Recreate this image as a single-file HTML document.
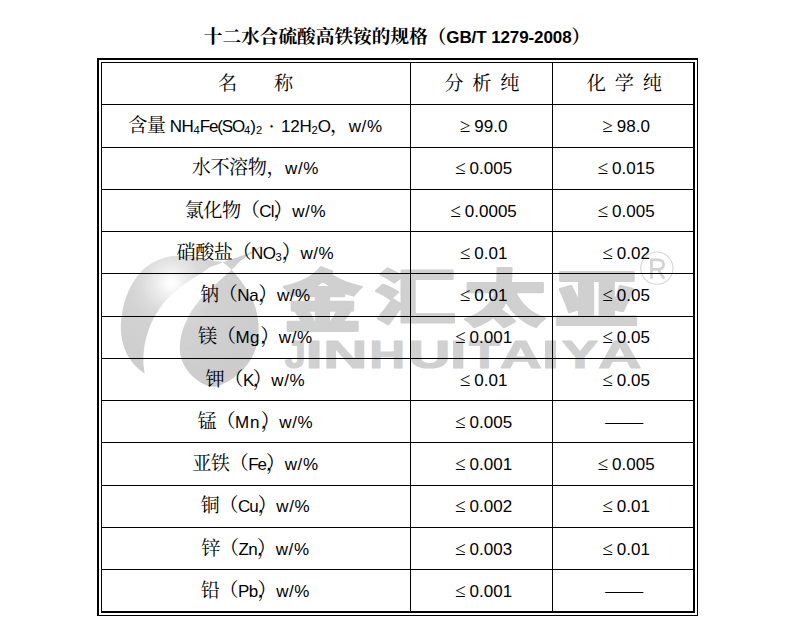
<!DOCTYPE html>
<html lang="zh-CN">
<head>
<meta charset="utf-8">
<title>十二水合硫酸高铁铵的规格（GB/T 1279-2008）</title>
<style>
html,body{margin:0;padding:0;background:#fff}
body{position:relative;width:793px;height:642px;overflow:hidden;font-family:"Liberation Sans",sans-serif;color:#000}
.k{position:absolute;background:#000}
.t{position:absolute;white-space:nowrap;text-align:center;font-size:17px}
.t svg.c{display:inline-block;vertical-align:-6px;overflow:visible;fill:#000}
.t span.c{font-family:"Liberation Serif","Noto Serif CJK SC",serif;font-size:19.2px;letter-spacing:-0.53px;line-height:0}
.t span.c.b{display:inline-block;width:18.67px;text-align:center;letter-spacing:0}
h1.t span.c{font-size:18.67px;letter-spacing:0;font-weight:bold}
.t .s{font-size:11.2px;vertical-align:-2.2px;line-height:0}
#wm{position:absolute;left:0;top:0}
h1{margin:0;font-weight:bold;font-size:17px}
</style>
</head>
<body>
<svg id="wm" width="793" height="642" viewBox="0 0 793 642" role="img"><title>金汇太亚 JINHUITAIYA ®</title><defs><radialGradient id="lg" gradientUnits="userSpaceOnUse" cx="171" cy="283" r="100"><stop offset="0" stop-color="#ffffff"/><stop offset="0.05" stop-color="#fbfbfb"/><stop offset="0.15" stop-color="#ececec"/><stop offset="0.3" stop-color="#dbdbdb"/><stop offset="0.45" stop-color="#d2d2d2"/><stop offset="1" stop-color="#cccccc"/></radialGradient></defs><path fill="url(#lg)" d="M222.9 262.2C221.8 262 218.2 261.5 216 261.2C213.8 260.9 212.2 260.6 210 260.2C207.8 259.8 205.3 259.1 203 258.6C200.7 258.1 199.2 257.5 196 257C192.8 256.5 188.2 255.9 184 255.8C179.8 255.7 175.1 255.6 171 256.2C166.9 256.8 163.3 257.9 159.5 259.5C155.7 261.1 151.4 263.3 148.2 265.5C145 267.7 142.8 269.9 140.4 272.5C138 275.1 136 277.9 134 281C132 284.1 130.1 287.5 128.5 291C126.9 294.5 125.6 298.2 124.5 302C123.4 305.8 122.6 309.7 122 313.5C121.4 317.3 120.9 321.1 120.8 325C120.7 328.9 121 333.1 121.6 337C122.2 340.9 123.2 344.9 124.5 348.5C125.8 352.1 127.5 355.4 129.5 358.5C131.5 361.6 134 364.5 136.5 367C139 369.5 143.3 372.5 144.7 373.6C144.5 371.3 143.3 364.8 143.3 360C143.3 355.2 144 349.2 144.7 344.8C145.4 340.4 146.3 337.2 147.5 333.5C148.7 329.8 149.9 326 151.7 322.3C153.4 318.6 155.8 314.6 158 311.1C160.2 307.6 162.4 304.3 165 301.3C167.6 298.3 170.3 295.7 173.5 292.9C176.7 290.1 180.5 287.1 184 284.5C187.5 281.9 191.3 279.4 194.5 277.4C197.7 275.4 200.4 274 203 272.3C205.6 270.6 207.7 268.6 210 267.3C212.3 266 214.8 265.4 217 264.5C219.2 263.6 221.9 262.6 222.9 262.2Z"/><path fill="url(#lg)" d="M231.7 269.7C232.8 270.9 235.9 274.3 238 277C240.1 279.7 242.4 282.8 244.5 286C246.6 289.2 248.7 292.6 250.5 296C252.3 299.4 253.8 302.4 255.1 306.4C256.4 310.4 257.4 315.9 258 320C258.6 324.1 258.7 327.3 258.6 331C258.5 334.7 258.3 338.5 257.6 342C256.9 345.5 255.8 348.8 254.5 352C253.2 355.2 251.4 358.6 249.5 361.5C247.6 364.4 245.5 366.9 243 369.5C240.5 372.1 237.5 374.8 234.5 377C231.5 379.2 228.2 381.4 225 383C221.8 384.6 218.2 386.5 215 386.8C211.8 387.1 208.5 386.1 205.5 385C202.5 383.9 199.8 382.1 197 380C194.2 377.9 191.3 375.3 189 372.5C186.7 369.7 184.5 366.4 183 363C181.5 359.6 180.4 356 180 352.2C179.6 348.4 179.9 343.9 180.4 340C180.9 336.1 181.8 332.6 183 329C184.2 325.4 185.8 322 187.5 318.5C189.2 315 191.3 311.2 193.5 308C195.7 304.8 198 301.9 200.5 299C203 296.1 205.8 293.2 208.5 290.5C211.2 287.8 214.2 285.4 217 283C219.8 280.6 222.6 278 225 275.8C227.4 273.6 230.6 270.7 231.7 269.7Z"/><path fill="url(#lg)" d="M231.7 269.7C231 269.1 229 267.2 227.5 266C226 264.8 223.7 262.8 222.9 262.2C223.9 261.8 226.9 260.7 228.9 260C230.9 259.3 233.3 258.7 235.2 258.1C237.1 257.5 238.6 256.8 240.3 256.2C242 255.6 242.7 255.8 245.3 254.6C247.9 253.4 252.7 251.4 256 249.3C259.3 247.2 263.8 243.5 265.3 242.3C263.8 243.7 259.1 248.6 256.5 250.6C253.9 252.6 251.9 253.3 250 254.5C248.1 255.7 246.7 256.5 245.3 257.5C243.9 258.5 242.7 259.4 241.5 260.3C240.3 261.2 239.5 262.1 238.4 263.1C237.3 264.1 236.3 265.2 235.2 266.3C234.1 267.4 232.3 269.1 231.7 269.7Z"/><g fill="#d0d0d0"><g stroke="#d0d0d0" stroke-width="3.5" stroke-linejoin="round" font-family="&quot;Liberation Sans&quot;,&quot;Noto Sans CJK SC&quot;,sans-serif" font-weight="900" font-size="100"><text transform="translate(283.1 324.6) scale(0.7930 0.6610)">金</text><text transform="translate(374.8 318.9) scale(0.8122 0.5971)">汇</text><text transform="translate(463.7 320.7) scale(0.8219 0.6128)">太</text><text transform="translate(555.2 321.6) scale(0.8288 0.6143)">亚</text></g><g font-family="&quot;Liberation Sans&quot;,sans-serif" font-weight="bold" font-size="39.68" stroke="#d0d0d0" stroke-width="1.2" stroke-linejoin="round"><text transform="translate(284.8 367.6) scale(0.951 1)">J</text><text transform="translate(305.4 367.6) scale(1.562 1)">I</text><text transform="translate(323.2 367.6) scale(1.545 1)">N</text><text transform="translate(369.3 367.6) scale(1.251 1)">H</text><text transform="translate(408.5 367.6) scale(1.461 1)">U</text><text transform="translate(450.1 367.6) scale(1.482 1)">I</text><text transform="translate(469 367.6) scale(1.275 1)">T</text><text transform="translate(499.8 367.6) scale(1.467 1)">A</text><text transform="translate(541.7 367.6) scale(1.597 1)">I</text><text transform="translate(561.8 367.6) scale(1.374 1)">Y</text><text transform="translate(598.2 367.6) scale(1.508 1)">A</text></g></g><circle cx="656.85" cy="268.15" r="16.1" fill="none" stroke="#d6d6d6" stroke-width="1.1"/><path d="M651.5 278.8V259.9H658C661.8 259.9 663.6 261.8 663.6 264.6C663.6 267.6 661.6 269.4 658 269.4H651.5M658.2 269.4L664.2 278.8" fill="none" stroke="#d2d2d2" stroke-width="2.7"/></svg>
<div id="grid"><div class="k" style="left:97px;top:58px;width:601px;height:2px"></div><div class="k" style="left:97px;top:58px;width:2px;height:558px"></div><div class="k" style="left:97px;top:615px;width:601px;height:1px"></div><div class="k" style="left:697px;top:58px;width:1px;height:558px"></div><div class="k" style="left:101px;top:62px;width:594px;height:1px"></div><div class="k" style="left:101px;top:62px;width:1px;height:550px"></div><div class="k" style="left:101px;top:611px;width:594px;height:2px"></div><div class="k" style="left:693px;top:62px;width:2px;height:551px"></div><div class="k" style="left:102px;top:104px;width:591px;height:1px"></div><div class="k" style="left:102px;top:147px;width:591px;height:1px"></div><div class="k" style="left:102px;top:189px;width:591px;height:1px"></div><div class="k" style="left:102px;top:231px;width:591px;height:1px"></div><div class="k" style="left:102px;top:273px;width:591px;height:1px"></div><div class="k" style="left:102px;top:316px;width:591px;height:1px"></div><div class="k" style="left:102px;top:358px;width:591px;height:1px"></div><div class="k" style="left:102px;top:400px;width:591px;height:1px"></div><div class="k" style="left:102px;top:442px;width:591px;height:1px"></div><div class="k" style="left:102px;top:485px;width:591px;height:1px"></div><div class="k" style="left:102px;top:527px;width:591px;height:1px"></div><div class="k" style="left:102px;top:569px;width:591px;height:1px"></div><div class="k" style="left:410px;top:63px;width:1px;height:548px"></div><div class="k" style="left:552px;top:63px;width:1px;height:548px"></div></div>
<h1 class="t" style="left:1px;top:17px;width:792px;height:42px;line-height:42px"><span class="c">十二水合硫酸高铁铵的规格（</span><span style="letter-spacing:-0.1px">GB/T 1279-2008</span><span class="c">）</span></h1>
<div class="t" style="left:105.4px;top:63.5px;width:300px;height:42px;line-height:42px"><span class="c">名　　称</span></div>
<div class="t" style="left:413.5px;top:63.5px;width:136px;height:42px;line-height:42px"><span class="c" style="letter-spacing:8.8px;margin-right:-9.33px">分析纯</span></div>
<div class="t" style="left:556px;top:63.5px;width:136px;height:42px;line-height:42px"><span class="c" style="letter-spacing:8.8px;margin-right:-9.33px">化学纯</span></div>
<div class="t" style="left:105.4px;top:106px;width:300px;height:42px;line-height:42px"><span class="c">含量</span><span style="letter-spacing:-0.46px"> NH</span><span class="s" style="letter-spacing:0px">4</span><span style="letter-spacing:-1.12px">Fe(SO</span><span class="s" style="letter-spacing:0px">4</span><span style="letter-spacing:0px">)</span><span class="s" style="letter-spacing:0px">2</span><span class="c b" style="font-size:10px;vertical-align:2.5px">•</span><span style="letter-spacing:-0.21px">12H</span><span class="s" style="letter-spacing:0px">2</span><span style="letter-spacing:-0.86px">O</span><span class="c">，</span><span style="letter-spacing:0.59px">w/%</span></div>
<div class="t" style="left:413.5px;top:106px;width:136px;height:42px;line-height:42px"><span class="c b">≥</span><span style="letter-spacing:0px">99.0</span></div>
<div class="t" style="left:556px;top:106px;width:136px;height:42px;line-height:42px"><span class="c b">≥</span><span style="letter-spacing:0px">98.0</span></div>
<div class="t" style="left:105.4px;top:148.25px;width:300px;height:42px;line-height:42px"><span class="c">水不溶物，</span><span style="letter-spacing:0.59px">w/%</span></div>
<div class="t" style="left:413.5px;top:148.25px;width:136px;height:42px;line-height:42px"><span class="c b">≤</span><span style="letter-spacing:0px">0.005</span></div>
<div class="t" style="left:556px;top:148.25px;width:136px;height:42px;line-height:42px"><span class="c b">≤</span><span style="letter-spacing:0px">0.015</span></div>
<div class="t" style="left:105.4px;top:190.5px;width:300px;height:42px;line-height:42px"><span class="c">氯化物（</span><span style="letter-spacing:-0.91px">Cl</span><span class="c"><span style="letter-spacing:-9.86px">）</span>，</span><span style="letter-spacing:0.59px">w/%</span></div>
<div class="t" style="left:413.5px;top:190.5px;width:136px;height:42px;line-height:42px"><span class="c b">≤</span><span style="letter-spacing:0px">0.0005</span></div>
<div class="t" style="left:556px;top:190.5px;width:136px;height:42px;line-height:42px"><span class="c b">≤</span><span style="letter-spacing:0px">0.005</span></div>
<div class="t" style="left:105.4px;top:232.75px;width:300px;height:42px;line-height:42px"><span class="c">硝酸盐（</span><span style="letter-spacing:-0.55px">NO</span><span class="s" style="letter-spacing:0px">3</span><span class="c"><span style="letter-spacing:-9.86px">）</span>，</span><span style="letter-spacing:0.59px">w/%</span></div>
<div class="t" style="left:413.5px;top:232.75px;width:136px;height:42px;line-height:42px"><span class="c b">≤</span><span style="letter-spacing:0px">0.01</span></div>
<div class="t" style="left:556px;top:232.75px;width:136px;height:42px;line-height:42px"><span class="c b">≤</span><span style="letter-spacing:0px">0.02</span></div>
<div class="t" style="left:105.4px;top:275px;width:300px;height:42px;line-height:42px"><span class="c">钠（</span><span style="letter-spacing:-0.37px">Na</span><span class="c"><span style="letter-spacing:-9.86px">）</span>，</span><span style="letter-spacing:0.59px">w/%</span></div>
<div class="t" style="left:413.5px;top:275px;width:136px;height:42px;line-height:42px"><span class="c b">≤</span><span style="letter-spacing:0px">0.01</span></div>
<div class="t" style="left:556px;top:275px;width:136px;height:42px;line-height:42px"><span class="c b">≤</span><span style="letter-spacing:0px">0.05</span></div>
<div class="t" style="left:105.4px;top:317.25px;width:300px;height:42px;line-height:42px"><span class="c">镁（</span><span style="letter-spacing:0.57px">Mg</span><span class="c"><span style="letter-spacing:-9.86px">）</span>，</span><span style="letter-spacing:0.59px">w/%</span></div>
<div class="t" style="left:413.5px;top:317.25px;width:136px;height:42px;line-height:42px"><span class="c b">≤</span><span style="letter-spacing:0px">0.001</span></div>
<div class="t" style="left:556px;top:317.25px;width:136px;height:42px;line-height:42px"><span class="c b">≤</span><span style="letter-spacing:0px">0.05</span></div>
<div class="t" style="left:105.4px;top:359.5px;width:300px;height:42px;line-height:42px"><span class="c">钾（</span><span style="letter-spacing:-1.64px">K</span><span class="c"><span style="letter-spacing:-9.86px">）</span>，</span><span style="letter-spacing:0.59px">w/%</span></div>
<div class="t" style="left:413.5px;top:359.5px;width:136px;height:42px;line-height:42px"><span class="c b">≤</span><span style="letter-spacing:0px">0.01</span></div>
<div class="t" style="left:556px;top:359.5px;width:136px;height:42px;line-height:42px"><span class="c b">≤</span><span style="letter-spacing:0px">0.05</span></div>
<div class="t" style="left:105.4px;top:401.75px;width:300px;height:42px;line-height:42px"><span class="c">锰（</span><span style="letter-spacing:1.08px">Mn</span><span class="c"><span style="letter-spacing:-9.86px">）</span>，</span><span style="letter-spacing:0.59px">w/%</span></div>
<div class="t" style="left:413.5px;top:401.75px;width:136px;height:42px;line-height:42px"><span class="c b">≤</span><span style="letter-spacing:0px">0.005</span></div>
<div class="t" style="left:556px;top:401.75px;width:136px;height:42px;line-height:42px"><span class="c">——</span></div>
<div class="t" style="left:105.4px;top:444px;width:300px;height:42px;line-height:42px"><span class="c">亚铁（</span><span style="letter-spacing:-0.99px">Fe</span><span class="c"><span style="letter-spacing:-9.86px">）</span>，</span><span style="letter-spacing:0.59px">w/%</span></div>
<div class="t" style="left:413.5px;top:444px;width:136px;height:42px;line-height:42px"><span class="c b">≤</span><span style="letter-spacing:0px">0.001</span></div>
<div class="t" style="left:556px;top:444px;width:136px;height:42px;line-height:42px"><span class="c b">≤</span><span style="letter-spacing:0px">0.005</span></div>
<div class="t" style="left:105.4px;top:486.25px;width:300px;height:42px;line-height:42px"><span class="c">铜（</span><span style="letter-spacing:-0.99px">Cu</span><span class="c"><span style="letter-spacing:-9.86px">）</span>，</span><span style="letter-spacing:0.59px">w/%</span></div>
<div class="t" style="left:413.5px;top:486.25px;width:136px;height:42px;line-height:42px"><span class="c b">≤</span><span style="letter-spacing:0px">0.002</span></div>
<div class="t" style="left:556px;top:486.25px;width:136px;height:42px;line-height:42px"><span class="c b">≤</span><span style="letter-spacing:0px">0.01</span></div>
<div class="t" style="left:105.4px;top:528.5px;width:300px;height:42px;line-height:42px"><span class="c">锌（</span><span style="letter-spacing:-0.65px">Zn</span><span class="c"><span style="letter-spacing:-9.86px">）</span>，</span><span style="letter-spacing:0.59px">w/%</span></div>
<div class="t" style="left:413.5px;top:528.5px;width:136px;height:42px;line-height:42px"><span class="c b">≤</span><span style="letter-spacing:0px">0.003</span></div>
<div class="t" style="left:556px;top:528.5px;width:136px;height:42px;line-height:42px"><span class="c b">≤</span><span style="letter-spacing:0px">0.01</span></div>
<div class="t" style="left:105.4px;top:570.75px;width:300px;height:42px;line-height:42px"><span class="c">铅（</span><span style="letter-spacing:-0.67px">Pb</span><span class="c"><span style="letter-spacing:-9.86px">）</span>，</span><span style="letter-spacing:0.59px">w/%</span></div>
<div class="t" style="left:413.5px;top:570.75px;width:136px;height:42px;line-height:42px"><span class="c b">≤</span><span style="letter-spacing:0px">0.001</span></div>
<div class="t" style="left:556px;top:570.75px;width:136px;height:42px;line-height:42px"><span class="c">——</span></div>
</body>
</html>
